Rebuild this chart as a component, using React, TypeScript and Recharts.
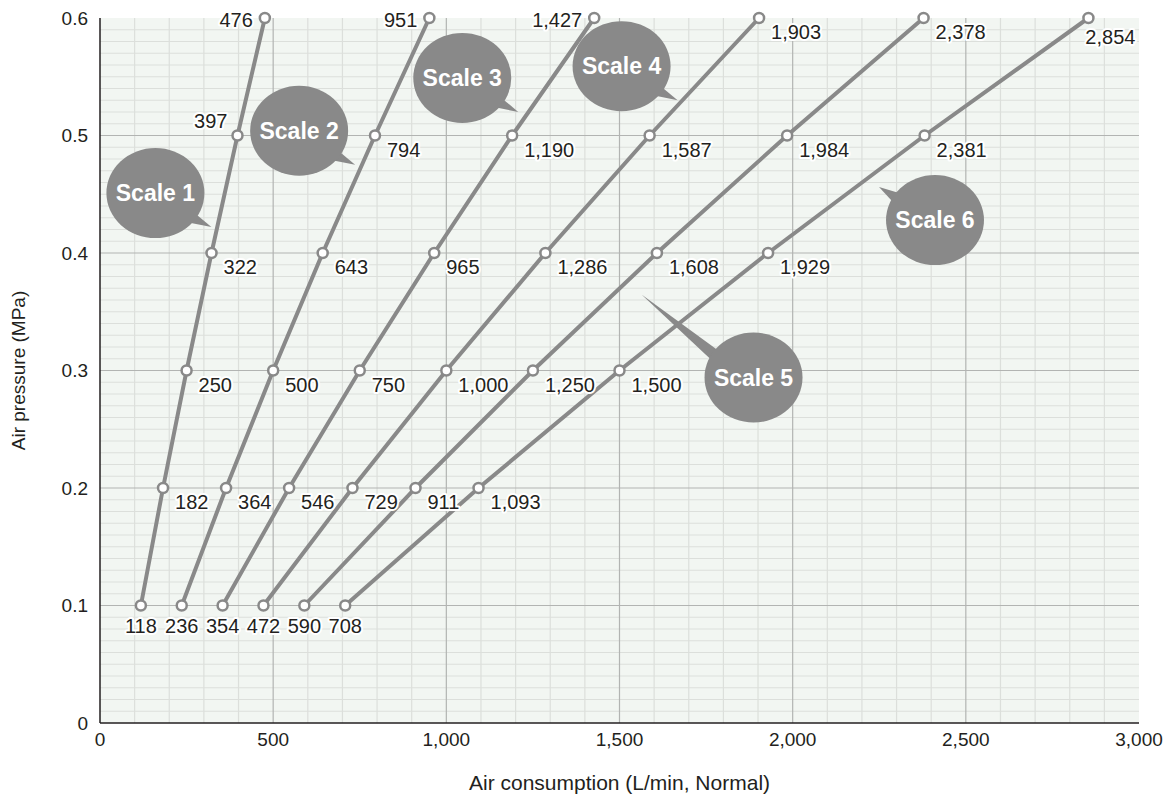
import { LabelList, Line, LineChart, ReferenceArea, ReferenceDot, ReferenceLine, XAxis, YAxis } from "recharts";

// pressure levels (MPa) shared by every scale
const pressures = [0.1, 0.2, 0.3, 0.4, 0.5, 0.6];

// air consumption (L/min, Normal) per scale, one value per pressure level
const scale1 = [118, 182, 250, 322, 397, 476];
const scale2 = [236, 364, 500, 643, 794, 951];
const scale3 = [354, 546, 750, 965, 1190, 1427];
const scale4 = [472, 729, 1000, 1286, 1587, 1903];
const scale5 = [590, 911, 1250, 1608, 1984, 2378];
const scale6 = [708, 1093, 1500, 1929, 2381, 2854];

const scaleNames = ["Scale 1", "Scale 2", "Scale 3", "Scale 4", "Scale 5", "Scale 6"];
const scaleValues = [scale1, scale2, scale3, scale4, scale5, scale6];

const xTicks = [0, 500, 1000, 1500, 2000, 2500, 3000];
const yTicks = [0, 0.1, 0.2, 0.3, 0.4, 0.5, 0.6];

// speech-bubble callouts: centre in data units, tail tip offset (px), tail base angles (deg)
const callouts = [
  { name: "Scale 1", x: 160, y: 0.451, tip: [56, 34], base: [28, 48] },
  { name: "Scale 2", x: 575, y: 0.504, tip: [56, 34], base: [28, 48] },
  { name: "Scale 3", x: 1046, y: 0.549, tip: [56, 34], base: [28, 48] },
  { name: "Scale 4", x: 1506, y: 0.559, tip: [56, 34], base: [28, 48] },
  { name: "Scale 5", x: 1887, y: 0.294, tip: [-112, -83], base: [-158, -140] },
  { name: "Scale 6", x: 2411, y: 0.428, tip: [-56, -33], base: [-158, -138] },
];

const FONT = "'Liberation Sans', Arial, sans-serif";
const INK = "#231f20";
const GREY = "#898989";

const series = scaleValues.map((vals) => vals.map((x, i) => ({ x, y: pressures[i] })));

// minor grid every 100 L/min and every 0.01 MPa, major every 500 / 0.1
const minorX = Array.from({ length: 29 }, (_, i) => (i + 1) * 100).filter((v) => v % 500 !== 0);
const minorY = Array.from({ length: 59 }, (_, i) => (i + 1) / 100).filter((_, i) => (i + 1) % 10 !== 0);
const majorX = [500, 1000, 1500, 2000, 2500];
const majorY = [0.1, 0.2, 0.3, 0.4, 0.5];

const fmt = (v: number) => v.toLocaleString("en-US");

const pointLabel = (s: number) => (props: any) => {
  const { x, y, value, index } = props;
  const p = pressures[index];
  let tx = x + 12;
  let ty = y + 14;
  let anchor = "start";
  if (p === 0.1) {
    tx = x; ty = y + 20; anchor = "middle";
  } else if (p === 0.6 && s < 3) {
    tx = x - 12; ty = y + 2; anchor = "end";
  } else if (p === 0.5 && s === 0) {
    tx = x - 10; ty = y - 15; anchor = "end";
  } else if (value > 2700) {
    tx = x + 47; ty = y + 19; anchor = "end";
  }
  return (
    <text
      x={tx} y={ty} textAnchor={anchor} dominantBaseline="central"
      fontSize={20} fontFamily={FONT} fill={INK}
      stroke="#fff" strokeWidth={4} strokeLinejoin="round" style={{ paintOrder: "stroke" }}
    >
      {fmt(value)}
    </text>
  );
};

const bubble = (c: typeof callouts[number]) => (props: any) => {
  const { cx, cy } = props;
  const rx = 49, ry = 45;
  const pt = (deg: number) => {
    const a = (deg * Math.PI) / 180;
    return `${cx + rx * 0.85 * Math.cos(a)},${cy + ry * 0.85 * Math.sin(a)}`;
  };
  return (
    <g>
      <polygon points={`${pt(c.base[0])} ${cx + c.tip[0]},${cy + c.tip[1]} ${pt(c.base[1])}`} fill={GREY} />
      <ellipse cx={cx} cy={cy} rx={rx} ry={ry} fill={GREY} />
      <text x={cx} y={cy} textAnchor="middle" dominantBaseline="central" fontSize={23} fontWeight="bold" fontFamily={FONT} fill="#fff">
        {c.name}
      </text>
    </g>
  );
};

export default function App() {
  return (
    <div style={{ position: "absolute", left: 0, top: 0, background: "#fff" }}>
      <LineChart width={1168} height={799} margin={{ top: 18, right: 29, bottom: 0, left: 0 }}>
        <XAxis
          type="number" dataKey="x" domain={[0, 3000]} ticks={xTicks}
          tickFormatter={fmt} tickLine={false} tickMargin={4} height={76}
          axisLine={{ stroke: INK, strokeWidth: 1.5 }}
          tick={{ fontSize: 19, fontFamily: FONT, fill: INK }}
          label={{ value: "Air consumption (L/min, Normal)", position: "insideBottom", offset: 9, fontSize: 21, fontFamily: FONT, fill: INK }}
        />
        <YAxis
          type="number" dataKey="y" domain={[0, 0.6]} ticks={yTicks}
          tickFormatter={(v: number) => (v === 0 ? "0" : v.toFixed(1))}
          tickLine={false} tickMargin={6} width={100}
          axisLine={{ stroke: INK, strokeWidth: 1.5 }}
          tick={{ fontSize: 19, fontFamily: FONT, fill: INK }}
          label={{ value: "Air pressure (MPa)", angle: -90, position: "insideLeft", offset: 18, fontSize: 19, fontFamily: FONT, fill: INK, style: { textAnchor: "middle" } }}
        />
        <ReferenceArea x1={0} x2={3000} y1={0} y2={0.6} fill="#f2f6f2" fillOpacity={1} stroke="none" />
        {minorX.map((v) => (
          <ReferenceLine key={`mx${v}`} x={v} stroke="#dcdfdb" strokeWidth={1.2} />
        ))}
        {minorY.map((v) => (
          <ReferenceLine key={`my${v}`} y={v} stroke="#dcdfdb" strokeWidth={1.2} />
        ))}
        {majorX.map((v) => (
          <ReferenceLine key={`Mx${v}`} x={v} stroke="#b2b4b2" strokeWidth={1.2} />
        ))}
        {majorY.map((v) => (
          <ReferenceLine key={`My${v}`} y={v} stroke="#b2b4b2" strokeWidth={1.2} />
        ))}
        {series.map((d, s) => (
          <Line
            key={scaleNames[s]} data={d} dataKey="y" name={scaleNames[s]}
            stroke={GREY} strokeWidth={4} isAnimationActive={false}
            dot={{ r: 5, fill: "#fff", stroke: GREY, strokeWidth: 2.5, clipDot: false }}
          >
            <LabelList dataKey="x" content={pointLabel(s)} />
          </Line>
        ))}
        {callouts.map((c) => (
          <ReferenceDot key={c.name} x={c.x} y={c.y} r={0} shape={bubble(c)} />
        ))}
      </LineChart>
    </div>
  );
}
